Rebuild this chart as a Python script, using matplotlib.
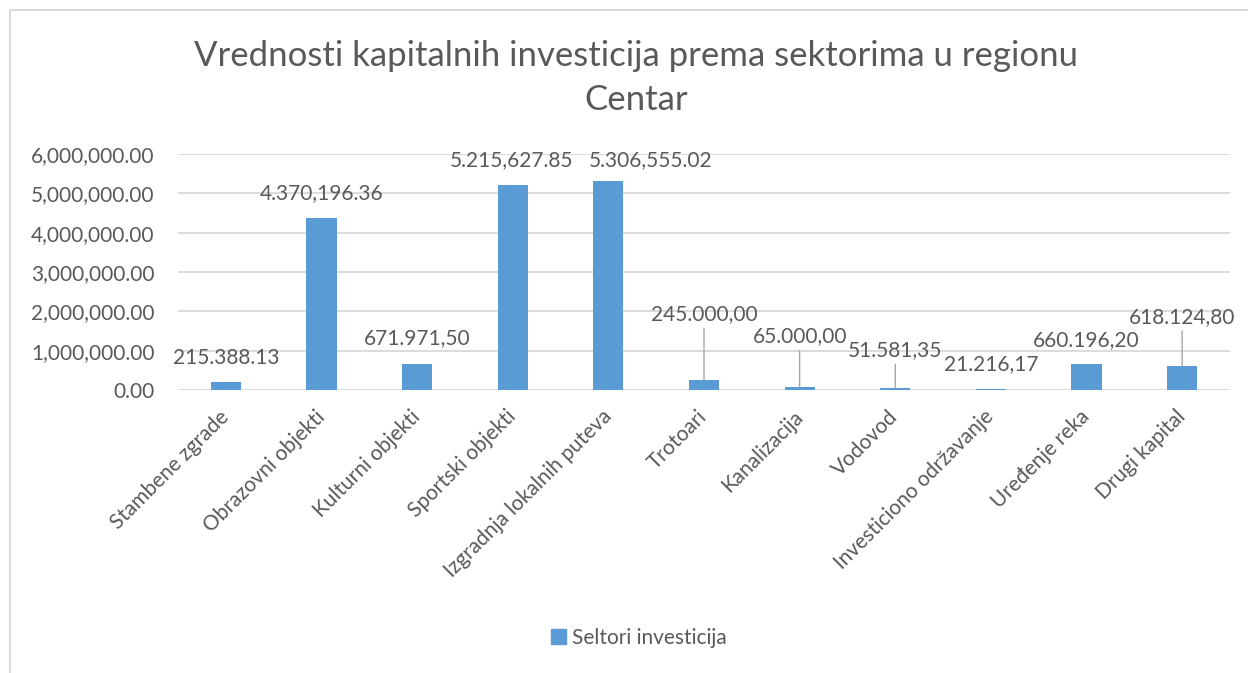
import matplotlib
matplotlib.use("Agg")
import matplotlib.pyplot as plt
from matplotlib.lines import Line2D
from matplotlib.patches import Patch
from matplotlib.ticker import FuncFormatter

categories = ["Stambene zgrade", "Obrazovni objekti", "Kulturni objekti", "Sportski objekti",
              "Izgradnja lokalnih puteva", "Trotoari", "Kanalizacija", "Vodovod",
              "Investiciono održavanje", "Uređenje reka", "Drugi kapital"]
values = [215388.13, 4370196.36, 671971.50, 5215627.85, 5306555.02, 245000.00,
          65000.00, 51581.35, 21216.17, 660196.20, 618124.80]
value_labels = ["215.388.13", "4.370,196.36", "671.971,50", "5.215,627.85", "5.306,555.02",
                "245.000,00", "65.000,00", "51.581,35", "21.216,17", "660.196,20", "618.124,80"]
series_name = "Seltori investicija"
title = "Vrednosti kapitalnih investicija prema sektorima u regionu\nCentar"
y_ticks = [0, 1e6, 2e6, 3e6, 4e6, 5e6, 6e6]

# label offsets in pixels (dx, dy upward) from bar top, and whether a leader line is drawn
label_offsets = [(0, 24), (0, 25), (0, 25), (-1, 25), (42, 21), (0, 66),
                 (0, 51), (0, 38), (0, 25), (0, 24), (0, 49)]
leaders = [False, False, False, False, False, True, True, True, False, False, True]

W, H = 1248, 673
FONT = "Lato"
TXT = "#595959"
BAR = "#5B9BD5"
GRID = "#D9D9D9"
FS = 15
plt.rcParams["font.family"] = [FONT, "DejaVu Sans"]

fig = plt.figure(figsize=(W / 100, H / 100), dpi=100)
ax = fig.add_axes([178 / W, 1 - 390 / H, (1230 - 178) / W, (390 - 154) / H])

x = list(range(len(categories)))
ax.bar(x, values, width=0.315, color=BAR, zorder=3)
ax.set_xlim(-0.5, len(categories) - 0.5)
ax.set_ylim(0, 6e6)
ax.set_yticks(y_ticks)
ax.yaxis.set_major_formatter(FuncFormatter(lambda v, p: f"{v:,.2f}"))
ax.grid(axis="y", color=GRID, linewidth=1.3, zorder=0)
for s in ax.spines.values():
    s.set_visible(False)
ax.tick_params(axis="both", length=0, colors=TXT, labelsize=FS)
ax.tick_params(axis="y", pad=17)
ax.set_xticks(x)
ax.set_xticklabels(categories, rotation=45, ha="right", va="center",
                   rotation_mode="anchor", fontsize=FS, color=TXT)
ax.tick_params(axis="x", pad=17)

for i, (v, lab) in enumerate(zip(values, value_labels)):
    dx, dy = label_offsets[i]
    kw = {}
    if leaders[i]:
        kw["arrowprops"] = dict(arrowstyle="-", color="#A6A6A6", lw=1.0,
                                shrinkA=1, shrinkB=0)
    ax.annotate(lab, xy=(i, v), xytext=(dx, dy), textcoords="offset pixels",
                ha="center", va="center", fontsize=FS, color=TXT, zorder=4, **kw)

fig.text(636 / W, 1 - 78 / H, title, ha="center", va="center", fontsize=25,
         color=TXT, linespacing=1.5)

fig.legend(handles=[Patch(facecolor=BAR, edgecolor=BAR)], labels=[series_name],
           loc="center", bbox_to_anchor=(639 / W, 1 - 638 / H), frameon=False,
           fontsize=FS, labelcolor=TXT, handlelength=0.7, handleheight=0.7,
           handletextpad=0.3)

# chart border (top and left edges visible)
fig.add_artist(Line2D([10 / W, 10 / W, 1.0], [0.0, 1 - 10 / H, 1 - 10 / H],
                      transform=fig.transFigure, color=GRID, lw=1.3))

fig.savefig("out.png", dpi=100, facecolor="white")
